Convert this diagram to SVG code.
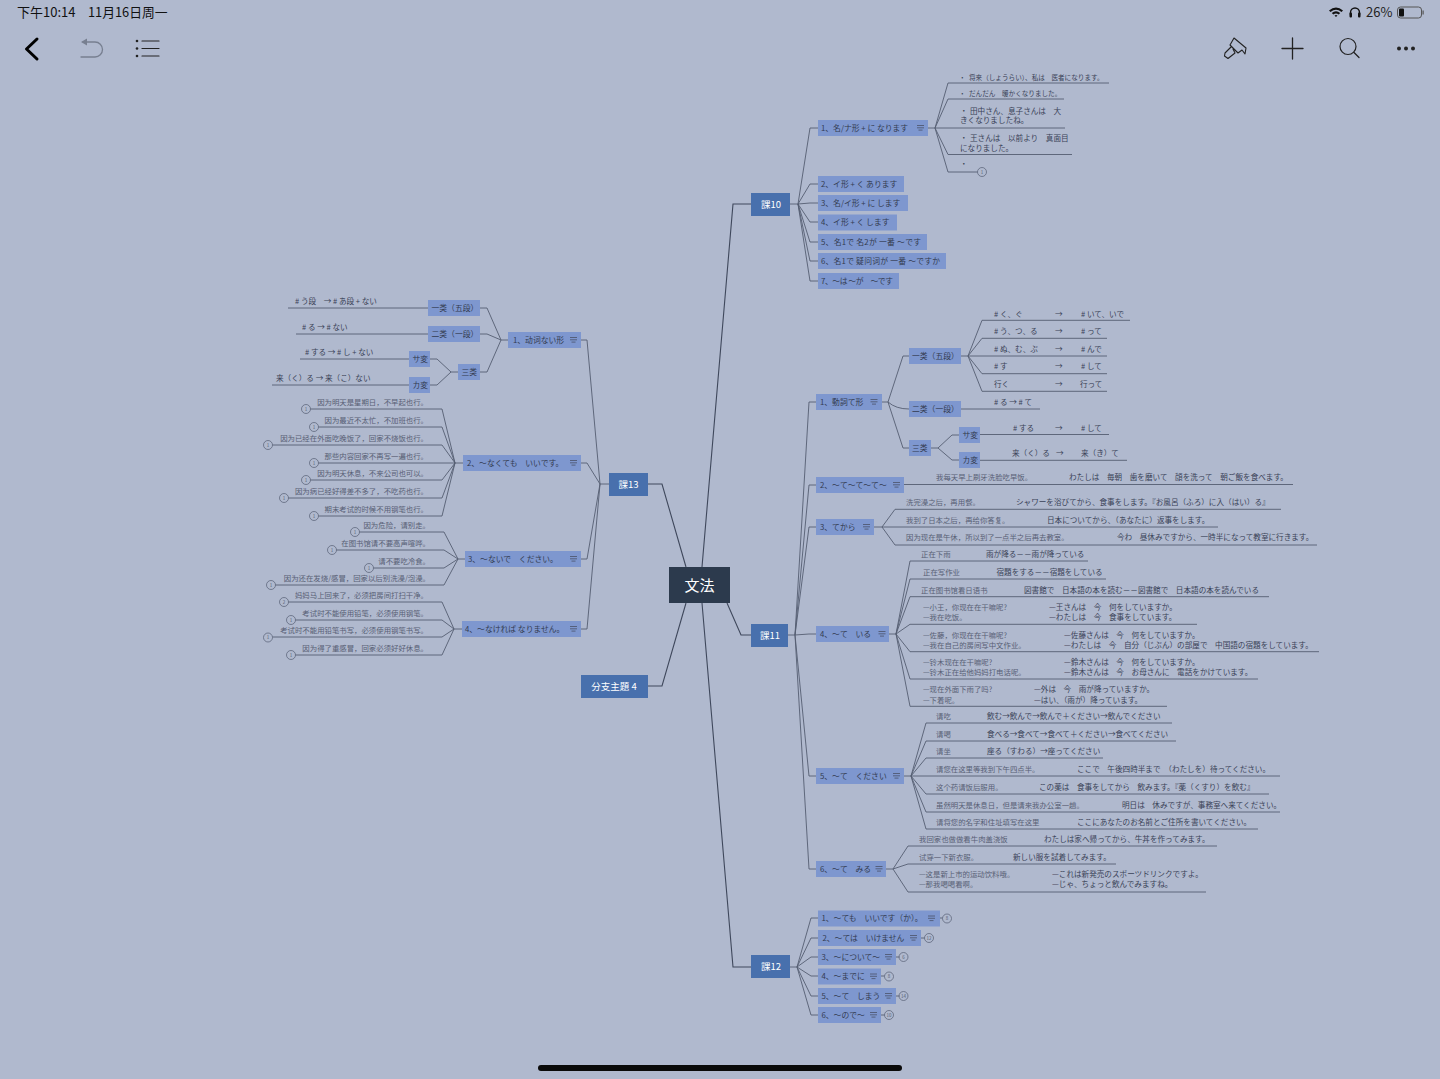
<svg xmlns="http://www.w3.org/2000/svg" width="1440" height="1079" viewBox="0 0 1440 1079">
<style>
text{font-family:"Noto Sans CJK JP","Noto Sans CJK SC","Noto Sans",sans-serif}
.m{fill:#4870ad}.s{fill:#7e97cf}
.mt{fill:#fff;font-size:9.5px;text-anchor:middle}
.st{fill:#333b50;font-size:7.8px}
.l{fill:#3a4257;font-size:7.6px}
.z{fill:#586075;font-size:7.4px}
.e{text-anchor:end}
.sm{font-size:6.6px}
.c{fill:none;stroke:#555d72;stroke-width:.9}
.c2{fill:none;stroke:#3f485c;stroke-width:1.1}
.n{fill:none;stroke:#4a5268;stroke-width:.8}
.cn{fill:none;stroke:#555d72;stroke-width:.7}
.ct{fill:#555d72;font-size:4.5px;text-anchor:middle}
.u{fill:none;stroke-linecap:round}
</style>
<defs>
<path id="note" class="n" d="M0 0H7M0 2.3H7M1.5 4.6H5.5"/>
</defs>
<rect width="1440" height="1079" fill="#b0b9ce"/>

<g id="connectors">
<path class="c2" d="M702 567L733 204H751M727 603L741 635H751M702 603L733 967H751M686 567L662 484H648M686 603L662 686H648"/>
<path class="c" d="M790 204H798L810 128H818M798 204L810 184H818M798 204L810 203H818M798 204L810 222H818M798 204L810 242H818M798 204L810 261H818M798 204L810 281H818"/>
<path class="c" d="M928 128H935L948 83H1109M935 128L948 99H1064M935 128H1065M935 128L948 154.500H1072M935 128L948 172H977.500"/>
<path class="c" d="M788 635H795L809 402H816M795 635L809 485H816M795 635L809 527H816M795 635L809 634H816M795 635L809 776H816M795 635L809 869H816"/>
<path class="c" d="M882 402H888L903 356H909M888 402Q896 409 909 409M888 402L903 448H909"/>
<path class="c" d="M961 356H968L982 320.300H1130M968 356L982 338.300H1107M968 356H1107M968 356L982 373.700H1107M968 356L982 391.300H1107M961 409H1040M931 448H938L952 435H959M938 448L952 460H959M980 434.500H1109M980 460.300H1127"/>
<path class="c" d="M904 484.500H1293M874 527H882L895 509.300H1281M882 527H1218M882 527L895 545H1317"/>
<path class="c" d="M889 634H896L910 561H1088M896 634L910 579H1106M896 634L910 596.700H1269M896 634L910 624.300H1197M896 634L910 651.700H1319M896 634L910 679H1258M896 634L910 706.300H1167"/>
<path class="c" d="M904 776H911L926 723H1172M911 776L926 741H1176M911 776L926 758H1103M911 776H1280M911 776L926 794H1269M911 776L926 812H1280M911 776L926 829H1258"/>
<path class="c" d="M886 869H893L908 846H1217M893 869L908 864H1116M893 869L908 892H1206"/>
<path class="c" d="M790 967H797L811 918H818M797 967L811 938H818M797 967L811 957H818M797 967L811 976H818M797 967L811 996H818M797 967L811 1015H818M940 918H942.500M921 938H924.500M896 957H899.500M881 976H884.500M896 996H899.500M881 1015H884.500"/>
<path class="c" d="M609 484H600L587 340H581M600 484L587 463H581M600 484L587 559H581M600 484L587 629H581"/>
<path class="c" d="M508 340H501L487 308H480M501 340L487 334H480M501 340L487 372H480M428 308H288M428 334H296M458 372H451L437 359H430M451 372L437 385H430M409 359H300M409 385H272"/>
<path class="c" d="M463 463H455L442 409H310.500M455 463L442 427H318.500M455 463L442 445H272.500M455 463H318.500M455 463L442 480H310.500M455 463L442 498H288.500M455 463L442 516H318.500"/>
<path class="c" d="M465 559H458L444 532H359.500M458 559L444 550H336.500M458 559L444 568H373.500M458 559L444 585H275.500"/>
<path class="c" d="M462 629H454L442 602H288.500M454 629L442 620H295.500M454 629L442 637H272.500M454 629L442 655H295.500"/>
</g>

<g id="root"><rect x="669" y="567" width="61" height="36" fill="#2c3a4d"/><text x="699.500" y="591" fill="#fff" font-size="15" text-anchor="middle">文法</text></g>
<g id="k10"><rect class="m" x="751" y="193" width="39" height="23"/><text class="mt" x="771" y="208">課10</text></g>
<g id="k11"><rect class="m" x="751" y="624" width="37" height="23"/><text class="mt" x="770" y="639">課11</text></g>
<g id="k12"><rect class="m" x="751" y="955" width="39" height="23"/><text class="mt" x="771" y="970">課12</text></g>
<g id="k13"><rect class="m" x="609" y="473" width="39" height="23"/><text class="mt" x="628.500" y="488">課13</text></g>
<g id="b4"><rect class="m" x="581" y="675" width="67" height="23"/><text class="mt" x="614" y="690">分支主題 4</text></g>

<g id="k10-1"><rect class="s" x="818" y="120" width="110" height="16"/><text class="st" x="821" y="130.700">1、名/ナ形 + に なります</text><use href="#note" x="917" y="125.500"/></g>
<g id="k10-2"><rect class="s" x="818" y="176" width="86" height="16"/><text class="st" x="821" y="186.700">2、イ形 + く あります</text></g>
<g id="k10-3"><rect class="s" x="818" y="195" width="90" height="16"/><text class="st" x="821" y="205.700">3、名/イ形 + に します</text></g>
<g id="k10-4"><rect class="s" x="818" y="214.500" width="79" height="16"/><text class="st" x="821" y="225.200">4、イ形 + く します</text></g>
<g id="k10-5"><rect class="s" x="818" y="234" width="109" height="16"/><text class="st" x="821" y="244.700" textLength="100">5、名1で 名2が 一番 ～です</text></g>
<g id="k10-6"><rect class="s" x="818" y="253" width="128" height="16"/><text class="st" x="821" y="263.700" textLength="119">6、名1で 疑问词が 一番 ～ですか</text></g>
<g id="k10-7"><rect class="s" x="818" y="273" width="81" height="16"/><text class="st" x="821" y="283.700" textLength="72">7、～は ～が　～です</text></g>
<g id="k10-1-leaves">
<text class="l sm" y="79.500"><tspan x="959">・</tspan><tspan x="969">将来（しょうらい）、私は　医者になります。</tspan></text>
<text class="l sm" y="95.500"><tspan x="959">・</tspan><tspan x="969">だんだん　暖かくなりました。</tspan></text>
<text class="l" y="113.500"><tspan x="960">・</tspan><tspan x="970">田中さん、息子さんは　大</tspan></text><text class="l" x="960" y="123">きくなりましたね。</text>
<text class="l" y="141"><tspan x="960">・</tspan><tspan x="970">王さんは　以前より　真面目</tspan></text><text class="l" x="960" y="150.500">になりました。</text>
<text class="l" x="960" y="166.500">・</text>
<circle class="cn" cx="982" cy="172" r="4.500"/><text class="ct" x="982" y="173.700">1</text>
</g>

<g id="k11-1"><rect class="s" x="816" y="394" width="66" height="16"/><text class="st" x="820" y="404.700">1、動詞て形</text><use href="#note" x="870.500" y="399.500"/></g>
<g id="k11-1-1"><rect class="s" x="909" y="348" width="52" height="16"/><text class="st" x="912" y="358.700">一类（五段）</text></g>
<g id="k11-1-2"><rect class="s" x="909" y="401" width="52" height="16"/><text class="st" x="912" y="411.700">二类（一段）</text></g>
<g id="k11-1-3"><rect class="s" x="909" y="440" width="22" height="16"/><text class="st" x="912" y="450.700">三类</text></g>
<g id="k11-1-3a"><rect class="s" x="959" y="427" width="21" height="16"/><text class="st" x="962.500" y="437.700">サ変</text></g>
<g id="k11-1-3b"><rect class="s" x="959" y="452" width="21" height="16"/><text class="st" x="962.500" y="462.700">カ変</text></g>
<g id="k11-1-leaves">
<text class="l" y="316.700"><tspan x="994"># く、ぐ</tspan><tspan x="1055">→</tspan><tspan x="1081"># いて、いで</tspan></text>
<text class="l" y="334"><tspan x="994"># う、つ、る</tspan><tspan x="1055">→</tspan><tspan x="1081"># って</tspan></text>
<text class="l" y="351.700"><tspan x="994"># ぬ、む、ぶ</tspan><tspan x="1055">→</tspan><tspan x="1081"># んで</tspan></text>
<text class="l" y="369.400"><tspan x="994"># す</tspan><tspan x="1055">→</tspan><tspan x="1081"># して</tspan></text>
<text class="l" y="387.400"><tspan x="994">行く</tspan><tspan x="1055">→</tspan><tspan x="1080">行って</tspan></text>
<text class="l" x="994" y="405"># る → # て</text>
<text class="l" y="430.700"><tspan x="1013"># する</tspan><tspan x="1055">→</tspan><tspan x="1081"># して</tspan></text>
<text class="l" y="456"><tspan x="1012">来（く）る</tspan><tspan x="1056">→</tspan><tspan x="1081">来（き）て</tspan></text>
</g>

<g id="k11-2"><rect class="s" x="816" y="477" width="88" height="16"/><text class="st" x="820" y="487.700">2、～て～て～て～</text><use href="#note" x="893" y="482.500"/>
<text class="l" y="480.400"><tspan class="z" x="936">我每天早上刷牙洗脸吃早饭。</tspan><tspan x="1069">わたしは　毎朝　歯を磨いて　顔を洗って　朝ご飯を食べます。</tspan></text></g>

<g id="k11-3"><rect class="s" x="816" y="519" width="58" height="16"/><text class="st" x="820" y="529.700">3、てから</text><use href="#note" x="863" y="524.500"/>
<text class="l" y="504.700"><tspan class="z" x="906">洗完澡之后，再用餐。</tspan><tspan x="1016">シャワーを浴びてから、食事をします。『お風呂（ふろ）に入（はい）る』</tspan></text>
<text class="l" y="522.700"><tspan class="z" x="906">我到了日本之后，再给你答复。</tspan><tspan x="1047">日本についてから、（あなたに）返事をします。</tspan></text>
<text class="l" y="540.400"><tspan class="z" x="906">因为现在是午休，所以到了一点半之后再去教室。</tspan><tspan x="1117">今わ　昼休みですから、一時半になって教室に行きます。</tspan></text></g>

<g id="k11-4"><rect class="s" x="816" y="626" width="73" height="16"/><text class="st" x="820" y="636.700">4、～て　いる</text><use href="#note" x="878.500" y="631.500"/>
<text class="l" y="557"><tspan class="z" x="921">正在下雨</tspan><tspan x="986">雨が降る－－雨が降っている</tspan></text>
<text class="l" y="574.700"><tspan class="z" x="923">正在写作业</tspan><tspan x="996.500">宿題をする－－宿題をしている</tspan></text>
<text class="l" y="592.700"><tspan class="z" x="921">正在图书馆看日语书</tspan><tspan x="1024">図書館で　日本語の本を読む－－図書館で　日本語の本を読んでいる</tspan></text>
<text class="l" y="610.400"><tspan class="z" x="923">—小王，你现在在干嘛呢?</tspan><tspan x="1049">—王さんは　今　何をしていますか。</tspan></text>
<text class="l" y="620.400"><tspan class="z" x="923">—我在吃饭。</tspan><tspan x="1049">—わたしは　今　食事をしています。</tspan></text>
<text class="l" y="637.700"><tspan class="z" x="923">—佐藤，你现在在干嘛呢?</tspan><tspan x="1064">—佐藤さんは　今　何をしていますか。</tspan></text>
<text class="l" y="647.700"><tspan class="z" x="923">—我在自己的房间写中文作业。</tspan><tspan x="1064">—わたしは　今　自分（じぶん）の部屋で　中国語の宿題をしています。</tspan></text>
<text class="l" y="664.700"><tspan class="z" x="923">—铃木现在在干嘛呢?</tspan><tspan x="1064">—鈴木さんは　今　何をしていますか。</tspan></text>
<text class="l" y="675"><tspan class="z" x="923">—铃木正在给他妈妈打电话呢。</tspan><tspan x="1064">—鈴木さんは　今　お母さんに　電話をかけています。</tspan></text>
<text class="l" y="692.400"><tspan class="z" x="923">—现在外面下雨了吗?</tspan><tspan x="1034">—外は　今　雨が降っていますか。</tspan></text>
<text class="l" y="702.700"><tspan class="z" x="923">—下着呢。</tspan><tspan x="1034">—はい、（雨が）降っています。</tspan></text></g>

<g id="k11-5"><rect class="s" x="816" y="768" width="88" height="16"/><text class="st" x="820" y="778.700">5、～て　ください</text><use href="#note" x="893" y="773.500"/>
<text class="l" y="718.500"><tspan class="z" x="936">请吃</tspan><tspan x="987">飲む→飲んで→飲んで＋ください→飲んでください</tspan></text>
<text class="l" y="736.500"><tspan class="z" x="936">请喝</tspan><tspan x="987">食べる→食べて→食べて＋ください→食べてください</tspan></text>
<text class="l" y="754"><tspan class="z" x="936">请坐</tspan><tspan x="987">座る（すわる）→座ってください</tspan></text>
<text class="l" y="772"><tspan class="z" x="936">请您在这里等我到下午四点半。</tspan><tspan x="1077">ここで　午後四時半まで　（わたしを）待ってください。</tspan></text>
<text class="l" y="789.500"><tspan class="z" x="936">这个药请饭后服用。</tspan><tspan x="1039">この薬は　食事をしてから　飲みます。『薬（くすり）を飲む』</tspan></text>
<text class="l" y="807.500"><tspan class="z" x="936">虽然明天是休息日，但是请来我办公室一趟。</tspan><tspan x="1122">明日は　休みですが、事務室へ来てください。</tspan></text>
<text class="l" y="825"><tspan class="z" x="936">请将您的名字和住址填写在这里</tspan><tspan x="1077">ここにあなたのお名前とご住所を書いてください。</tspan></text></g>

<g id="k11-6"><rect class="s" x="816" y="861" width="70" height="16"/><text class="st" x="820" y="871.700">6、～て　みる</text><use href="#note" x="875.500" y="866.500"/>
<text class="l" y="841.500"><tspan class="z" x="919">我回家也做做看牛肉盖浇饭</tspan><tspan x="1044">わたしは家へ帰ってから、牛丼を作ってみます。</tspan></text>
<text class="l" y="859.500"><tspan class="z" x="919">试穿一下新衣服。</tspan><tspan x="1013">新しい服を試着してみます。</tspan></text>
<text class="l" y="877"><tspan class="z" x="919">—这是新上市的运动饮料哦。</tspan><tspan x="1052">—これは新発売のスポーツドリンクですよ。</tspan></text>
<text class="l" y="887"><tspan class="z" x="919">—那我喝喝看啊。</tspan><tspan x="1052">—じゃ、ちょっと飲んでみますね。</tspan></text></g>

<g id="k12-1"><rect class="s" x="818" y="910.500" width="122" height="16"/><text class="st" x="821.500" y="921.200">1、～ても　いいです（か）。</text><use href="#note" x="928" y="916"/><circle class="cn" cx="947" cy="918.500" r="4.500"/><text class="ct" x="947" y="920.200">8</text></g>
<g id="k12-2"><rect class="s" x="818" y="930" width="103" height="16"/><text class="st" x="822.500" y="940.700">2、～ては　いけません</text><use href="#note" x="910" y="935.500"/><circle class="cn" cx="929" cy="938" r="4.500"/><text class="ct" x="929" y="939.700">12</text></g>
<g id="k12-3"><rect class="s" x="818" y="949" width="78" height="16"/><text class="st" x="821.500" y="959.700">3、～について～</text><use href="#note" x="885" y="954.500"/><circle class="cn" cx="903.500" cy="957" r="4.500"/><text class="ct" x="903.500" y="958.700">6</text></g>
<g id="k12-4"><rect class="s" x="818" y="968.500" width="63" height="16"/><text class="st" x="821.500" y="979.200">4、～までに</text><use href="#note" x="870" y="974"/><circle class="cn" cx="889" cy="976.500" r="4.500"/><text class="ct" x="889" y="978.200">8</text></g>
<g id="k12-5"><rect class="s" x="818" y="988" width="78" height="16"/><text class="st" x="821.500" y="998.700">5、～て　しまう</text><use href="#note" x="885" y="993.500"/><circle class="cn" cx="903.500" cy="996" r="4.500"/><text class="ct" x="903.500" y="997.700">14</text></g>
<g id="k12-6"><rect class="s" x="818" y="1007" width="63" height="16"/><text class="st" x="821.500" y="1017.700">6、～ので～</text><use href="#note" x="870" y="1012.500"/><circle class="cn" cx="889" cy="1015" r="4.500"/><text class="ct" x="889" y="1016.700">10</text></g>

<g id="k13-1"><rect class="s" x="508" y="332" width="73" height="16"/><text class="st" x="513" y="342.700">1、动词ない形</text><use href="#note" x="570" y="337.500"/></g>
<g id="k13-1-1"><rect class="s" x="428" y="300" width="52" height="16"/><text class="st" x="431.500" y="310.700">一类（五段）</text></g>
<g id="k13-1-2"><rect class="s" x="428" y="326" width="52" height="16"/><text class="st" x="431.500" y="336.700">二类（一段）</text></g>
<g id="k13-1-3"><rect class="s" x="458" y="364" width="22" height="16"/><text class="st" x="461.500" y="374.700">三类</text></g>
<g id="k13-1-3a"><rect class="s" x="409" y="351" width="21" height="16"/><text class="st" x="412.500" y="361.700">サ変</text></g>
<g id="k13-1-3b"><rect class="s" x="409" y="377" width="21" height="16"/><text class="st" x="412.500" y="387.700">カ変</text></g>
<g id="k13-1-leaves">
<text class="l" x="295" y="303.500"># う段　→ # あ段 + ない</text>
<text class="l" x="302" y="329.500"># る → # ない</text>
<text class="l" x="305" y="355"># する → # し + ない</text>
<text class="l" x="276" y="381">来（く）る → 来（こ）ない</text>
</g>

<g id="k13-2"><rect class="s" x="463" y="455" width="118" height="16"/><text class="st" x="467" y="465.700">2、～なくても　いいです。</text><use href="#note" x="570" y="460.500"/>
<text class="l z e" x="428" y="405">因为明天是星期日，不早起也行。</text>
<text class="l z e" x="428" y="423">因为最近不太忙，不加班也行。</text>
<text class="l z e" x="428" y="441">因为已经在外面吃晚饭了，回家不烧饭也行。</text>
<text class="l z e" x="428" y="458.500">那些内容回家不再写一遍也行。</text>
<text class="l z e" x="428" y="476">因为明天休息，不来公司也可以。</text>
<text class="l z e" x="428" y="494">因为病已经好得差不多了，不吃药也行。</text>
<text class="l z e" x="428" y="512">期末考试的时候不用钢笔也行。</text>
<g><circle class="cn" cx="306" cy="409" r="4.500"/><text class="ct" x="306" y="410.700">1</text><circle class="cn" cx="314" cy="427" r="4.500"/><text class="ct" x="314" y="428.700">1</text><circle class="cn" cx="268" cy="445" r="4.500"/><text class="ct" x="268" y="446.700">1</text><circle class="cn" cx="314" cy="463" r="4.500"/><text class="ct" x="314" y="464.700">1</text><circle class="cn" cx="306" cy="480" r="4.500"/><text class="ct" x="306" y="481.700">1</text><circle class="cn" cx="284" cy="498" r="4.500"/><text class="ct" x="284" y="499.700">1</text><circle class="cn" cx="314" cy="516" r="4.500"/><text class="ct" x="314" y="517.700">1</text></g></g>

<g id="k13-3"><rect class="s" x="465" y="551" width="116" height="16"/><text class="st" x="468" y="561.700">3、～ないで　ください。</text><use href="#note" x="570" y="556.500"/>
<text class="l z e" x="430" y="528">因为危险，请别走。</text>
<text class="l z e" x="430" y="546">在图书馆请不要高声喧哗。</text>
<text class="l z e" x="430" y="564">请不要吃冷食。</text>
<text class="l z e" x="430" y="581">因为还在发烧/感冒，回家以后别洗澡/泡澡。</text>
<g><circle class="cn" cx="355" cy="532" r="4.500"/><text class="ct" x="355" y="533.700">1</text><circle class="cn" cx="332" cy="550" r="4.500"/><text class="ct" x="332" y="551.700">1</text><circle class="cn" cx="369" cy="568" r="4.500"/><text class="ct" x="369" y="569.700">1</text><circle class="cn" cx="271" cy="585" r="4.500"/><text class="ct" x="271" y="586.700">1</text></g></g>

<g id="k13-4"><rect class="s" x="462" y="621" width="119" height="16"/><text class="st" x="465" y="631.700">4、～なければ なりません。</text><use href="#note" x="570" y="626.500"/>
<text class="l z e" x="428" y="598">妈妈马上回来了，必须把房间打扫干净。</text>
<text class="l z e" x="428" y="616">考试时不能使用铅笔，必须使用钢笔。</text>
<text class="l z e" x="428" y="633">考试时不能用铅笔书写，必须使用钢笔书写。</text>
<text class="l z e" x="428" y="651">因为得了重感冒，回家必须好好休息。</text>
<g><circle class="cn" cx="284" cy="602" r="4.500"/><text class="ct" x="284" y="603.700">2</text><circle class="cn" cx="291" cy="620" r="4.500"/><text class="ct" x="291" y="621.700">1</text><circle class="cn" cx="268" cy="637.500" r="4.500"/><text class="ct" x="268" y="639.200">1</text><circle class="cn" cx="291" cy="655" r="4.500"/><text class="ct" x="291" y="656.700">1</text></g></g>

<g id="statusbar">
<text x="17" y="17" font-size="13" fill="#111">下午10:14</text>
<text x="88" y="17" font-size="12.800" fill="#111">11月16日周一</text>
<path fill="#111" d="M1329 10.500Q1336 4.500 1343 10.500L1341.500 12Q1336 7.500 1330.500 12ZM1331.800 13Q1336 9.500 1340.200 13L1338.700 14.500Q1336 12.500 1333.300 14.500ZM1334.500 15.500Q1336 14.500 1337.500 15.500L1336 17Z"/>
<path class="u" stroke="#111" stroke-width="1.400" d="M1350.500 15V12.500A4.500 4.500 0 0 1 1359.500 12.500V15"/>
<rect x="1349.500" y="12.500" width="2.500" height="5" rx="1" fill="#111"/><rect x="1358" y="12.500" width="2.500" height="5" rx="1" fill="#111"/>
<text x="1366" y="17" font-size="13" fill="#222">26%</text>
<rect x="1397.500" y="7" width="24" height="11" rx="3" fill="none" stroke="#555" stroke-width="1"/>
<rect x="1399" y="8.500" width="5" height="8" rx="1" fill="#111"/>
<rect x="1422.500" y="10.500" width="1.200" height="4" fill="#555"/>
</g>
<g id="toolbar">
<path class="u" stroke="#000" stroke-width="3" stroke-linejoin="round" d="M37 39L26.500 49L37 59"/>
<path class="u" stroke="#777f90" stroke-width="1.300" d="M83 42H95A7.500 7.500 0 0 1 95 57H81"/><path fill="#777f90" d="M81 42L87 38.500V45.500Z"/>
<path class="u" stroke="#222" stroke-width="1.200" d="M142 41H159M142 48.500H159M142 56H159"/>
<circle cx="137" cy="41" r="1.300" fill="#222"/><circle cx="137" cy="48.500" r="1.300" fill="#222"/><circle cx="137" cy="56" r="1.300" fill="#222"/>
<path class="u" stroke="#222" stroke-width="1.100" stroke-linejoin="round" d="M1234 38L1246 48L1245 54L1242 50L1238 53L1230 45ZM1230 45L1236 51M1233 49L1235 53L1228 58.500L1224.500 56L1225 53L1231 47"/>
<path class="u" stroke="#222" stroke-width="1.300" d="M1282 48.500H1303M1292.500 38V59"/>
<circle cx="1348" cy="46.500" r="8" fill="none" stroke="#222" stroke-width="1.200"/><path class="u" stroke="#222" stroke-width="1.300" d="M1354 52.500L1359 57.500"/>
<circle cx="1399" cy="48.500" r="2" fill="#222"/><circle cx="1406" cy="48.500" r="2" fill="#222"/><circle cx="1413" cy="48.500" r="2" fill="#222"/>
</g>
<rect id="home-indicator" x="538" y="1065" width="364" height="6" rx="3" fill="#0a0a0a"/>
</svg>
